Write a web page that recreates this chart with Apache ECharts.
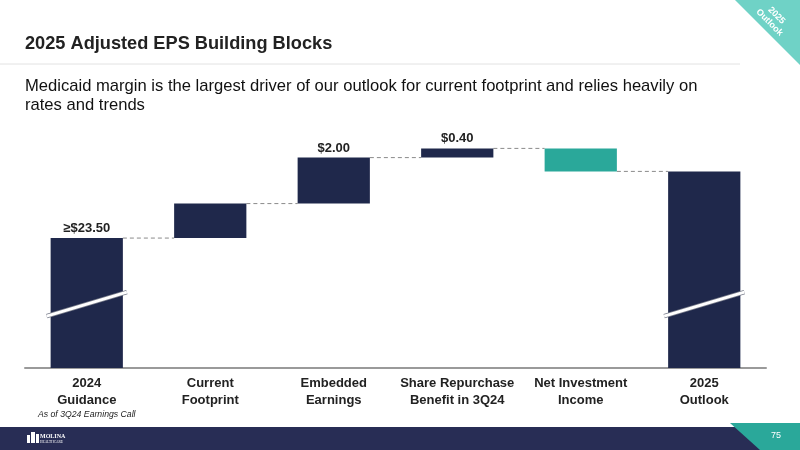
<!DOCTYPE html>
<html><head><meta charset="utf-8">
<script src="https://cdn.jsdelivr.net/npm/echarts@6/dist/echarts.min.js"></script>
<style>html,body{margin:0;padding:0;background:#fff}#c{width:800px;height:450px}</style>
</head><body><div id="c"></div>
<script>
// ---- data ----
const categories = ['2024\nGuidance', 'Current\nFootprint', 'Embedded\nEarnings', 'Share Repurchase\nBenefit in 3Q24', 'Net Investment\nIncome', '2025\nOutlook'];
const startValue = 23.50;
const steps = [1.50, 2.00, 0.40, -1.00];
const endValue = 26.40;
const valueLabels = ['≥$23.50', '', '$2.00', '$0.40', '', ''];
const breakValue = 20.63;

// ---- styling ----
const NAVY = '#1f284b', TEAL = '#2aa89a';
const AXIS_MIN = 17.85, AXIS_MAX = 28.2;
const FONT = '"Liberation Sans", Arial, sans-serif';

// build waterfall rows: [index, low, high, isNegative]
const rows = [];
const levels = [];
let level = startValue;
rows.push([0, AXIS_MIN, startValue, 0]);
levels.push(level);
steps.forEach((s, k) => {
  const lo = Math.min(level, level + s), hi = Math.max(level, level + s);
  rows.push([k + 1, lo, hi, s < 0 ? 1 : 0]);
  level += s;
  levels.push(level);
});
rows.push([categories.length - 1, AXIS_MIN, endValue, 0]);
const connectors = levels.map((v, i) => [i, v]);
const breaks = [[0, breakValue], [categories.length - 1, breakValue]];

const BAR_RATIO = 0.585;

const chart = echarts.init(document.getElementById('c'), null, {renderer: 'canvas'});
chart.setOption({
  animation: false,
  backgroundColor: '#fff',
  textStyle: {fontFamily: FONT},
  title: [
    {text: '2025 Adjusted EPS Building Blocks', left: 25, top: 35, padding: 0,
     textStyle: {fontFamily: FONT, fontSize: 18.2, fontWeight: 'bold', color: '#222'}},
    {text: 'Medicaid margin is the largest driver of our outlook for current footprint and relies heavily on\nrates and trends',
     left: 25, top: 77, padding: 0, textStyle: {fontFamily: FONT, fontSize: 16.6, fontWeight: 'normal', color: '#111', lineHeight: 19}}
  ],
  grid: {left: 25, right: 34, top: 130, bottom: 82, containLabel: false},
  xAxis: {
    type: 'category', data: categories,
    axisLine: {lineStyle: {color: '#9a9a9a', width: 2}},
    axisTick: {show: false},
    axisLabel: {
      interval: 0, margin: 7, color: '#222', fontFamily: FONT, fontSize: 13, fontWeight: 'bold', lineHeight: 17,
      formatter: (v, i) => i === 0 ? v + '\n{i|As of 3Q24 Earnings Call}' : v,
      rich: {i: {fontFamily: FONT, fontSize: 8.7, fontStyle: 'italic', fontWeight: 'normal', color: '#222', lineHeight: 12}}
    }
  },
  yAxis: {type: 'value', min: AXIS_MIN, max: AXIS_MAX, show: false, splitLine: {show: false}},
  series: [
    {
      type: 'custom', name: 'connectors', data: connectors, z: 1,
      renderItem: (params, api) => {
        const i = api.value(0);
        if (i >= categories.length - 1) return null;
        const w = api.size([1, 0])[0] * BAR_RATIO;
        const a = api.coord([i, api.value(1)]);
        const b = api.coord([i + 1, api.value(1)]);
        return {type: 'line', shape: {x1: a[0] + w / 2, y1: a[1], x2: b[0] - w / 2, y2: b[1]},
          style: {stroke: '#8a8a8a', lineWidth: 1, lineDash: [4, 3]}};
      }
    },
    {
      type: 'custom', name: 'bars', data: rows, z: 2,
      renderItem: (params, api) => {
        const i = api.value(0);
        const w = api.size([1, 0])[0] * BAR_RATIO;
        const lo = api.coord([i, api.value(1)]);
        const hi = api.coord([i, api.value(2)]);
        const children = [{type: 'rect', shape: {x: lo[0] - w / 2, y: hi[1], width: w, height: lo[1] - hi[1]},
          style: {fill: api.value(3) ? TEAL : NAVY}}];
        const lab = valueLabels[i];
        if (lab) children.push({type: 'text', x: hi[0], y: hi[1] - 3,
          style: {text: lab, fill: '#222', font: 'bold 13px ' + FONT, textAlign: 'center', textVerticalAlign: 'bottom'}});
        return {type: 'group', children};
      }
    },
    {
      type: 'custom', name: 'breaks', data: breaks, z: 3,
      renderItem: (params, api) => {
        const i = api.value(0);
        const w = api.size([1, 0])[0] * BAR_RATIO;
        const p = api.coord([i, api.value(1)]);
        const shape = {x1: p[0] - w / 2 - 4, y1: p[1] + 12, x2: p[0] + w / 2 + 4, y2: p[1] - 12};
        return {type: 'group', children: [
          {type: 'line', shape, style: {stroke: '#7a7e8c', lineWidth: 4.5}},
          {type: 'line', shape, style: {stroke: '#ffffff', lineWidth: 3}}
        ]};
      }
    }
  ],
  graphic: [
    {type: 'line', shape: {x1: 0, y1: 64, x2: 740, y2: 64}, style: {stroke: '#e2e2e2', lineWidth: 1}},
    {type: 'polygon', shape: {points: [[735, 0], [800, 0], [800, 65]]}, style: {fill: '#6fd2c6'}},
    {type: 'text', x: 773, y: 19, rotation: -Math.PI / 4,
     style: {text: '2025\nOutlook', fill: '#fff', font: 'bold 9px ' + FONT, textAlign: 'center', textVerticalAlign: 'middle', lineHeight: 10}},
    {type: 'rect', shape: {x: 0, y: 427, width: 800, height: 23}, style: {fill: '#282d55'}},
    {type: 'polygon', shape: {points: [[730, 423], [800, 423], [800, 450], [760, 450]]}, style: {fill: '#2aa89a'}},
    {type: 'text', x: 776, y: 436, style: {text: '75', fill: '#fff', font: '9px ' + FONT, textAlign: 'center', textVerticalAlign: 'middle'}},
    {type: 'rect', shape: {x: 27, y: 435, width: 3, height: 8}, style: {fill: '#fff'}},
    {type: 'rect', shape: {x: 31, y: 432, width: 4, height: 11}, style: {fill: '#fff'}},
    {type: 'rect', shape: {x: 36, y: 434, width: 3, height: 9}, style: {fill: '#fff'}},
    {type: 'text', x: 40, y: 436, style: {text: 'MOLINA', fill: '#fff', font: 'bold 6px "Liberation Serif", serif', textVerticalAlign: 'middle'}},
    {type: 'text', x: 40, y: 442, style: {text: 'HEALTHCARE', fill: '#fff', font: '3.5px "Liberation Serif", serif', textVerticalAlign: 'middle'}}
  ]
});
</script></body></html>
